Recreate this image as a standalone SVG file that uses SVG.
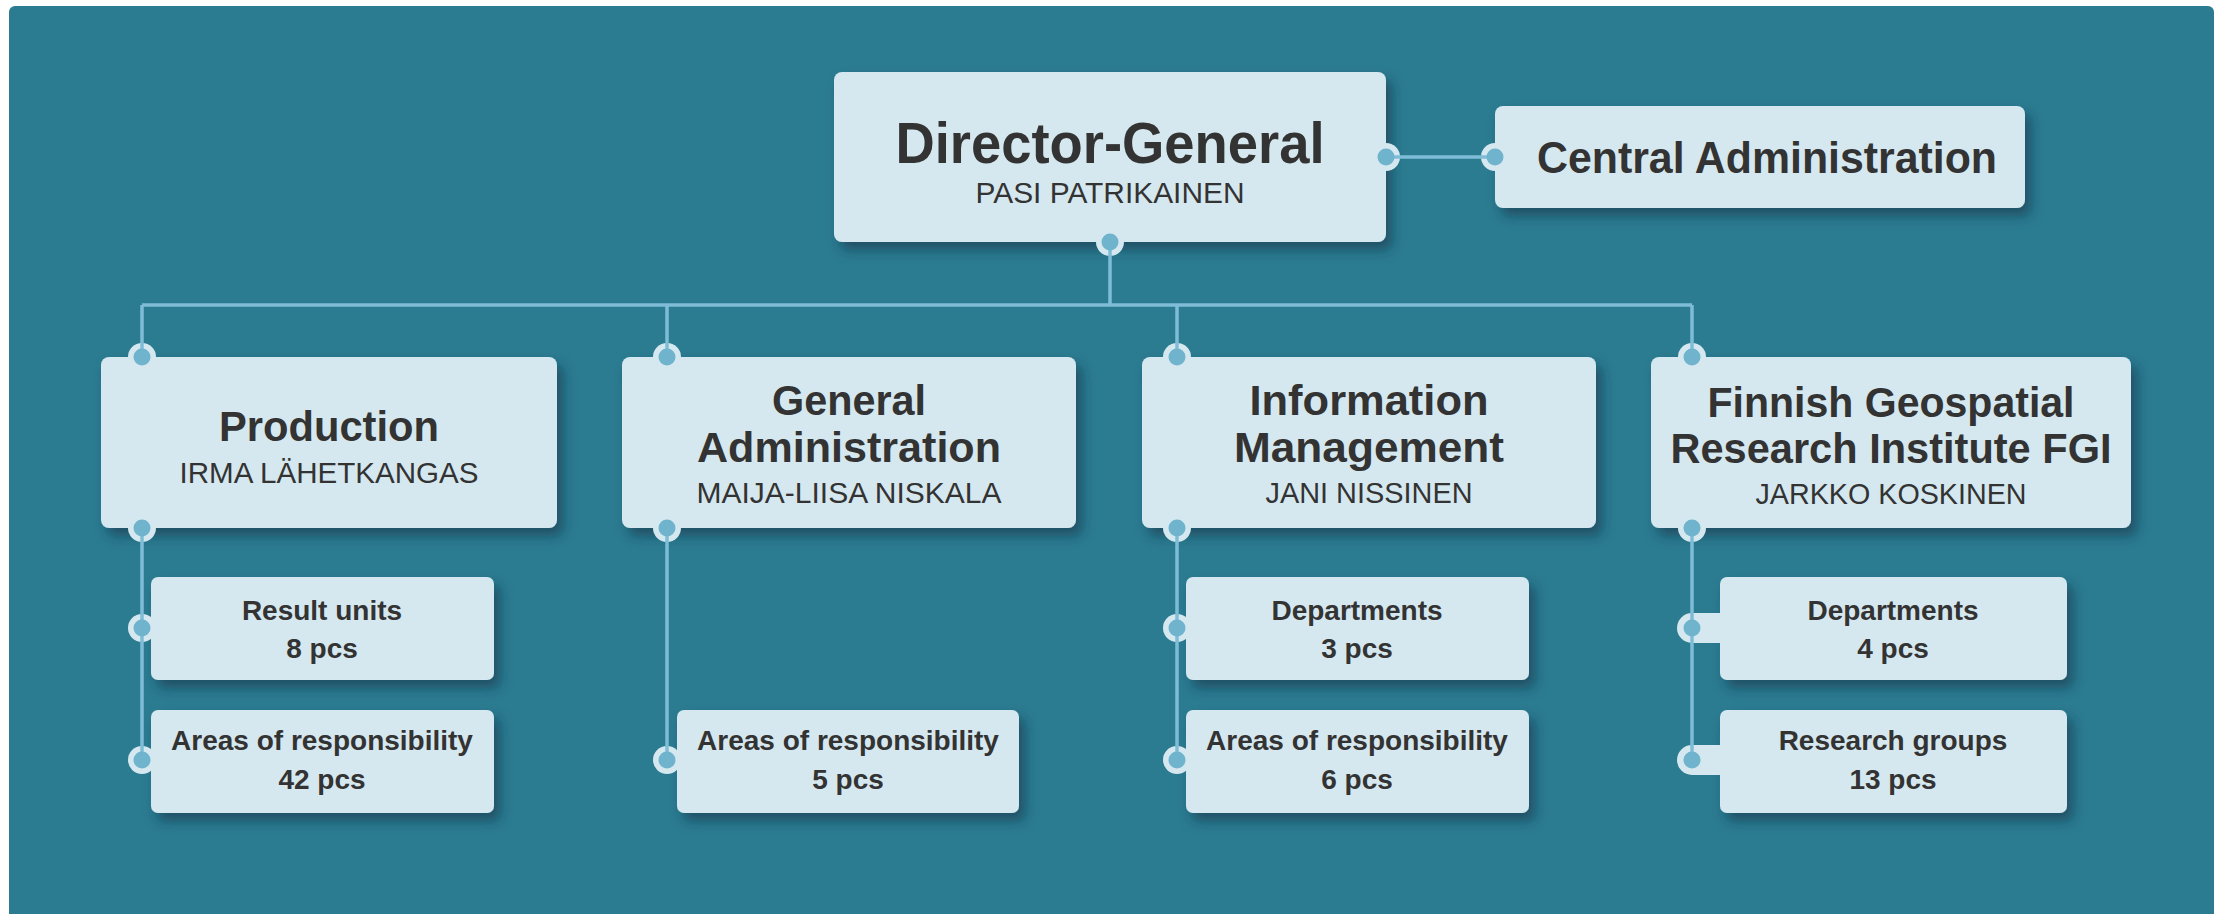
<svg xmlns="http://www.w3.org/2000/svg" width="2221" height="914" viewBox="0 0 2221 914">
<defs>
<filter id="sh" x="-10%" y="-20%" width="125%" height="150%">
<feDropShadow dx="6" dy="8" stdDeviation="6" flood-color="#0b3342" flood-opacity="0.55"/>
</filter>
<style>
.box{fill:#d5e8ef;filter:url(#sh)}
.rim{fill:#d5e8ef}
.dot{fill:#6fb3cd}
.ln{stroke:#7fbdd7;stroke-width:3.5;fill:none}
text{font-family:"Liberation Sans",Arial,sans-serif;fill:#333333;text-anchor:middle}
.t1{font-size:58px;font-weight:bold}
.t2{font-size:44px;font-weight:bold}
.t3{font-size:43px;font-weight:bold}
.nm{font-size:30px;font-weight:normal}
.sb{font-size:28px;font-weight:bold}
</style>
</defs>
<rect x="9" y="6" width="2205" height="920" rx="6" fill="#2b7b91"/>

<g id="director-general">
<rect class="box" x="834" y="72" width="552" height="170" rx="8"/>
<circle class="rim" cx="1110" cy="242" r="14"/>
<circle class="rim" cx="1386" cy="157" r="14"/>
<text class="t1" x="1110" y="163" textLength="429" lengthAdjust="spacingAndGlyphs">Director-General</text>
<text class="nm" x="1110" y="203" textLength="269" lengthAdjust="spacingAndGlyphs">PASI PATRIKAINEN</text>
</g>

<g id="central-administration">
<rect class="box" x="1495" y="106" width="530" height="102" rx="8"/>
<circle class="rim" cx="1495" cy="157" r="14"/>
<text class="t2" x="1767" y="173" textLength="460" lengthAdjust="spacingAndGlyphs">Central Administration</text>
</g>

<g id="production">
<rect class="box" x="101" y="357" width="456" height="171" rx="8"/>
<circle class="rim" cx="142" cy="357" r="14"/>
<circle class="rim" cx="142" cy="528" r="14"/>
<text class="t3" x="329" y="441" textLength="220" lengthAdjust="spacingAndGlyphs">Production</text>
<text class="nm" x="329" y="483" textLength="299" lengthAdjust="spacingAndGlyphs">IRMA LÄHETKANGAS</text>
</g>

<g id="general-administration">
<rect class="box" x="622" y="357" width="454" height="171" rx="8"/>
<circle class="rim" cx="667" cy="357" r="14"/>
<circle class="rim" cx="667" cy="528" r="14"/>
<text class="t3" x="849" y="415" textLength="154" lengthAdjust="spacingAndGlyphs">General</text>
<text class="t3" x="849" y="462" textLength="304" lengthAdjust="spacingAndGlyphs">Administration</text>
<text class="nm" x="849" y="503" textLength="305" lengthAdjust="spacingAndGlyphs">MAIJA-LIISA NISKALA</text>
</g>

<g id="information-management">
<rect class="box" x="1142" y="357" width="454" height="171" rx="8"/>
<circle class="rim" cx="1177" cy="357" r="14"/>
<circle class="rim" cx="1177" cy="528" r="14"/>
<text class="t3" x="1369" y="415" textLength="239" lengthAdjust="spacingAndGlyphs">Information</text>
<text class="t3" x="1369" y="462" textLength="270" lengthAdjust="spacingAndGlyphs">Management</text>
<text class="nm" x="1369" y="503" textLength="207" lengthAdjust="spacingAndGlyphs">JANI NISSINEN</text>
</g>

<g id="fgi">
<rect class="box" x="1651" y="357" width="480" height="171" rx="8"/>
<circle class="rim" cx="1692" cy="357" r="14"/>
<circle class="rim" cx="1692" cy="528" r="14"/>
<text class="t3" x="1891" y="417" textLength="367" lengthAdjust="spacingAndGlyphs">Finnish Geospatial</text>
<text class="t3" x="1891" y="463" textLength="441" lengthAdjust="spacingAndGlyphs">Research Institute FGI</text>
<text class="nm" x="1891" y="504" textLength="271" lengthAdjust="spacingAndGlyphs">JARKKO KOSKINEN</text>
</g>

<g id="production-result-units">
<rect class="box" x="151" y="577" width="343" height="103" rx="7"/>
<circle class="rim" cx="142" cy="628" r="14"/>
<text class="sb" x="322" y="620">Result units</text>
<text class="sb" x="322" y="658">8 pcs</text>
</g>
<g id="production-areas">
<rect class="box" x="151" y="710" width="343" height="103" rx="7"/>
<circle class="rim" cx="142" cy="760" r="14"/>
<text class="sb" x="322" y="750">Areas of responsibility</text>
<text class="sb" x="322" y="789">42 pcs</text>
</g>

<g id="general-administration-areas">
<rect class="box" x="677" y="710" width="342" height="103" rx="7"/>
<circle class="rim" cx="667" cy="760" r="14"/>
<text class="sb" x="848" y="750">Areas of responsibility</text>
<text class="sb" x="848" y="789">5 pcs</text>
</g>

<g id="information-management-departments">
<rect class="box" x="1186" y="577" width="343" height="103" rx="7"/>
<circle class="rim" cx="1177" cy="628" r="14"/>
<text class="sb" x="1357" y="620">Departments</text>
<text class="sb" x="1357" y="658">3 pcs</text>
</g>
<g id="information-management-areas">
<rect class="box" x="1186" y="710" width="343" height="103" rx="7"/>
<circle class="rim" cx="1177" cy="760" r="14"/>
<text class="sb" x="1357" y="750">Areas of responsibility</text>
<text class="sb" x="1357" y="789">6 pcs</text>
</g>

<g id="fgi-departments">
<rect class="box" x="1720" y="577" width="347" height="103" rx="7"/>
<path class="rim" d="M1722,613 H1692 A15,15 0 0 0 1692,643 H1722 Z"/>
<text class="sb" x="1893" y="620">Departments</text>
<text class="sb" x="1893" y="658">4 pcs</text>
</g>
<g id="fgi-research-groups">
<rect class="box" x="1720" y="710" width="347" height="103" rx="7"/>
<path class="rim" d="M1722,745 H1692 A15,15 0 0 0 1692,775 H1722 Z"/>
<text class="sb" x="1893" y="750">Research groups</text>
<text class="sb" x="1893" y="789">13 pcs</text>
</g>

<g id="connectors">
<path class="ln" d="M1386,157 H1495"/>
<path class="ln" d="M1110,242 V305"/>
<path class="ln" d="M142,305 H1692"/>
<path class="ln" d="M142,305 V357 M667,305 V357 M1177,305 V357 M1692,305 V357"/>
<path class="ln" d="M142,528 V760 M667,528 V760 M1177,528 V760 M1692,528 V760"/>
<g class="dot">
<circle cx="1110" cy="242" r="8.5"/>
<circle cx="1386" cy="157" r="8.5"/>
<circle cx="1495" cy="157" r="8.5"/>
<circle cx="142" cy="357" r="8.5"/>
<circle cx="667" cy="357" r="8.5"/>
<circle cx="1177" cy="357" r="8.5"/>
<circle cx="1692" cy="357" r="8.5"/>
<circle cx="142" cy="528" r="8.5"/>
<circle cx="667" cy="528" r="8.5"/>
<circle cx="1177" cy="528" r="8.5"/>
<circle cx="1692" cy="528" r="8.5"/>
<circle cx="142" cy="628" r="8.5"/>
<circle cx="142" cy="760" r="8.5"/>
<circle cx="667" cy="760" r="8.5"/>
<circle cx="1177" cy="628" r="8.5"/>
<circle cx="1177" cy="760" r="8.5"/>
<circle cx="1692" cy="628" r="8.5"/>
<circle cx="1692" cy="760" r="8.5"/>
</g>
</g>
</svg>
